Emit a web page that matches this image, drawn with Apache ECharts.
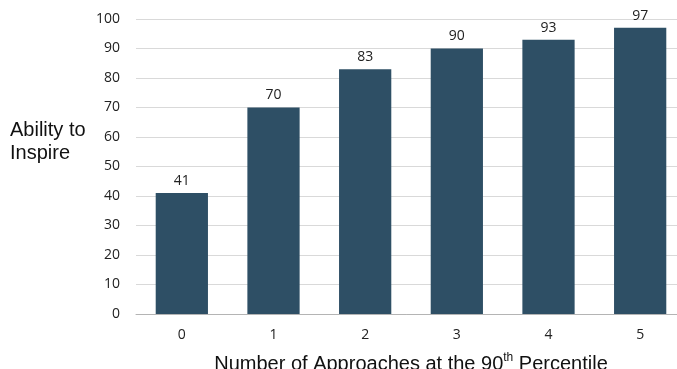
<!DOCTYPE html>
<html>
<head>
<meta charset="utf-8">
<script src="https://cdn.jsdelivr.net/npm/echarts@6/dist/echarts.min.js"></script>
<style>
  html, body { margin: 0; padding: 0; background: #fff; }
  #chart { width: 677px; height: 369px; }
</style>
</head>
<body>
<div id="chart"></div>
<script>
// Approaches at the 90th percentile vs. ability to inspire
const categories = ['0', '1', '2', '3', '4', '5'];
const abilityScores = [41, 70, 83, 90, 93, 97];
const yTicks = { min: 0, max: 100, interval: 10 };

const chart = echarts.init(document.getElementById('chart'), null, { renderer: 'canvas' });

chart.setOption({
  animation: false,
  grid: { left: 136, width: 550, top: 19, height: 295, outerBoundsMode: 'none', containLabel: false },
  xAxis: {
    type: 'category',
    data: categories,
    axisLine: { lineStyle: { color: '#b4b4b4', width: 1 } },
    axisTick: { show: false },
    axisLabel: { color: '#222', fontSize: 14, fontFamily: 'Open Sans', margin: 14 },
    name: '{m|Number of Approaches at the 90}{s|th}{m| Percentile}',
    nameLocation: 'middle',
    nameGap: 38,
    nameTextStyle: {
      rich: {
        m: { fontSize: 20, fontFamily: 'Liberation Sans', color: '#111', verticalAlign: 'bottom', lineHeight: 22 },
        s: { fontSize: 12, fontFamily: 'Liberation Sans', color: '#111', verticalAlign: 'top', lineHeight: 22, padding: [0, 0, 9, 0] }
      }
    }
  },
  yAxis: {
    type: 'value',
    min: yTicks.min,
    max: yTicks.max,
    interval: yTicks.interval,
    axisLine: { show: false },
    axisTick: { show: false },
    axisLabel: { color: '#222', fontSize: 14, fontFamily: 'Open Sans', margin: 16 },
    splitLine: { lineStyle: { color: '#d9d9d9', width: 1 } }
  },
  graphic: [{
    type: 'text',
    left: 10,
    top: 119,
    style: {
      text: 'Ability to\nInspire',
      fontSize: 20,
      fontFamily: 'Liberation Sans',
      fill: '#111',
      lineHeight: 23
    }
  }],
  series: [{
    type: 'bar',
    data: abilityScores,
    barWidth: '57%',
    itemStyle: { color: '#2e4f65' },
    label: {
      show: true,
      position: 'top',
      distance: 5,
      color: '#222',
      fontSize: 14,
      fontFamily: 'Open Sans'
    }
  }]
});
</script>
</body>
</html>
